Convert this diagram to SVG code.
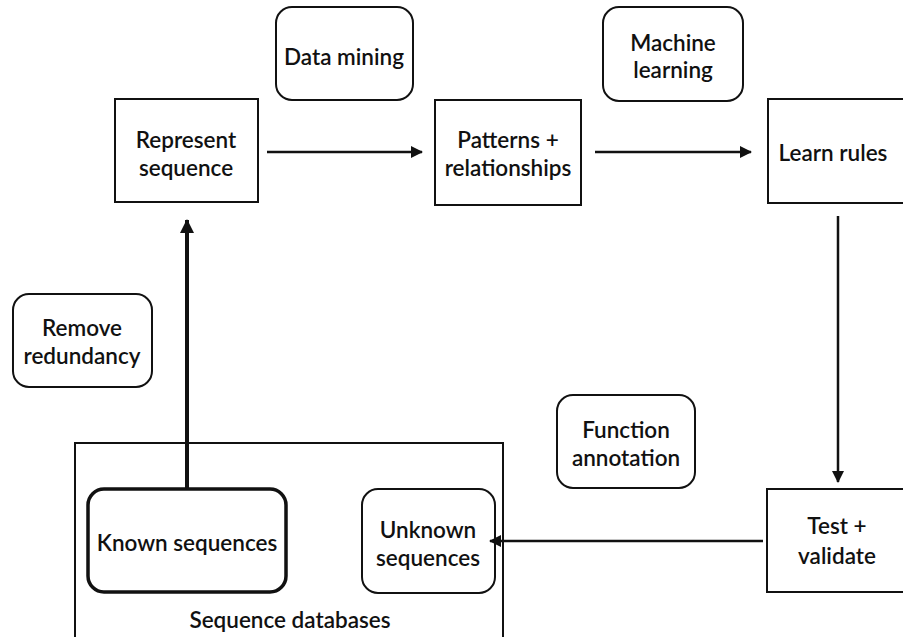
<svg xmlns="http://www.w3.org/2000/svg" width="903" height="637" viewBox="0 0 903 637">
  <style>
    .box { fill: #fff; stroke: #111; stroke-width: 2; }
    .thick { stroke-width: 3.5; }
    .lbl { font-family: Lato, "Open Sans", "Liberation Sans", sans-serif; font-size: 22.5px; font-weight: 600; fill: #111; text-anchor: middle; }
    .wire { fill: none; stroke: #111; stroke-width: 2.5; }
    .wire-thick { fill: none; stroke: #111; stroke-width: 4; }
  </style>
  <defs>
    <marker id="arrow" viewBox="0 0 12 12" refX="11" refY="6" markerWidth="12" markerHeight="12" markerUnits="userSpaceOnUse" orient="auto">
      <path d="M0,0 L12,6 L0,12 Z" fill="#111"/>
    </marker>
    <marker id="arrow-big" viewBox="0 0 14 14" refX="13" refY="7" markerWidth="14" markerHeight="14" markerUnits="userSpaceOnUse" orient="auto">
      <path d="M0,0 L14,7 L0,14 Z" fill="#111"/>
    </marker>
  </defs>

  <!-- database container -->
  <g id="sequence-databases">
    <rect class="box" x="75" y="443" width="428" height="210"/>
    <text class="lbl" x="290" y="628">Sequence databases</text>
  </g>

  <g id="data-mining">
    <rect class="box" x="276" y="7" width="137" height="93" rx="16"/>
    <text class="lbl" x="344" y="65">Data mining</text>
  </g>

  <g id="machine-learning">
    <rect class="box" x="603" y="7" width="140" height="94" rx="16"/>
    <text class="lbl" x="673" y="51">Machine</text>
    <text class="lbl" x="673" y="78">learning</text>
  </g>

  <g id="represent-sequence">
    <rect class="box" x="115" y="99" width="143" height="103"/>
    <text class="lbl" x="186" y="148">Represent</text>
    <text class="lbl" x="186" y="176">sequence</text>
  </g>

  <g id="patterns">
    <rect class="box" x="435" y="100" width="146" height="105"/>
    <text class="lbl" x="508" y="148">Patterns +</text>
    <text class="lbl" x="508" y="176">relationships</text>
  </g>

  <g id="learn-rules">
    <rect class="box" x="768" y="99" width="145" height="104"/>
    <text class="lbl" x="833" y="161">Learn rules</text>
  </g>

  <g id="remove-redundancy">
    <rect class="box" x="13" y="294" width="139" height="93" rx="16"/>
    <text class="lbl" x="82" y="336">Remove</text>
    <text class="lbl" x="82" y="364">redundancy</text>
  </g>

  <g id="function-annotation">
    <rect class="box" x="557" y="395" width="138" height="93" rx="16"/>
    <text class="lbl" x="626" y="438">Function</text>
    <text class="lbl" x="626" y="466">annotation</text>
  </g>

  <g id="known-sequences">
    <rect class="box thick" x="88" y="489" width="198" height="103" rx="16"/>
    <text class="lbl" x="187" y="551">Known sequences</text>
  </g>

  <g id="unknown-sequences">
    <rect class="box" x="362" y="489" width="133" height="104" rx="16"/>
    <text class="lbl" x="428" y="538">Unknown</text>
    <text class="lbl" x="428" y="566">sequences</text>
  </g>

  <g id="test-validate">
    <rect class="box" x="767" y="489" width="146" height="103"/>
    <text class="lbl" x="837" y="534">Test +</text>
    <text class="lbl" x="837" y="564">validate</text>
  </g>

  <!-- connectors -->
  <g id="connectors">
    <line class="wire" x1="267" y1="152" x2="422" y2="152" marker-end="url(#arrow)"/>
    <line class="wire" x1="595" y1="152" x2="751" y2="152" marker-end="url(#arrow)"/>
    <line class="wire" x1="838" y1="216" x2="838" y2="482" marker-end="url(#arrow)"/>
    <line class="wire" x1="763" y1="541" x2="490" y2="541" marker-end="url(#arrow)"/>
    <line class="wire-thick" x1="187" y1="489" x2="187" y2="220" marker-end="url(#arrow-big)"/>
  </g>
</svg>
